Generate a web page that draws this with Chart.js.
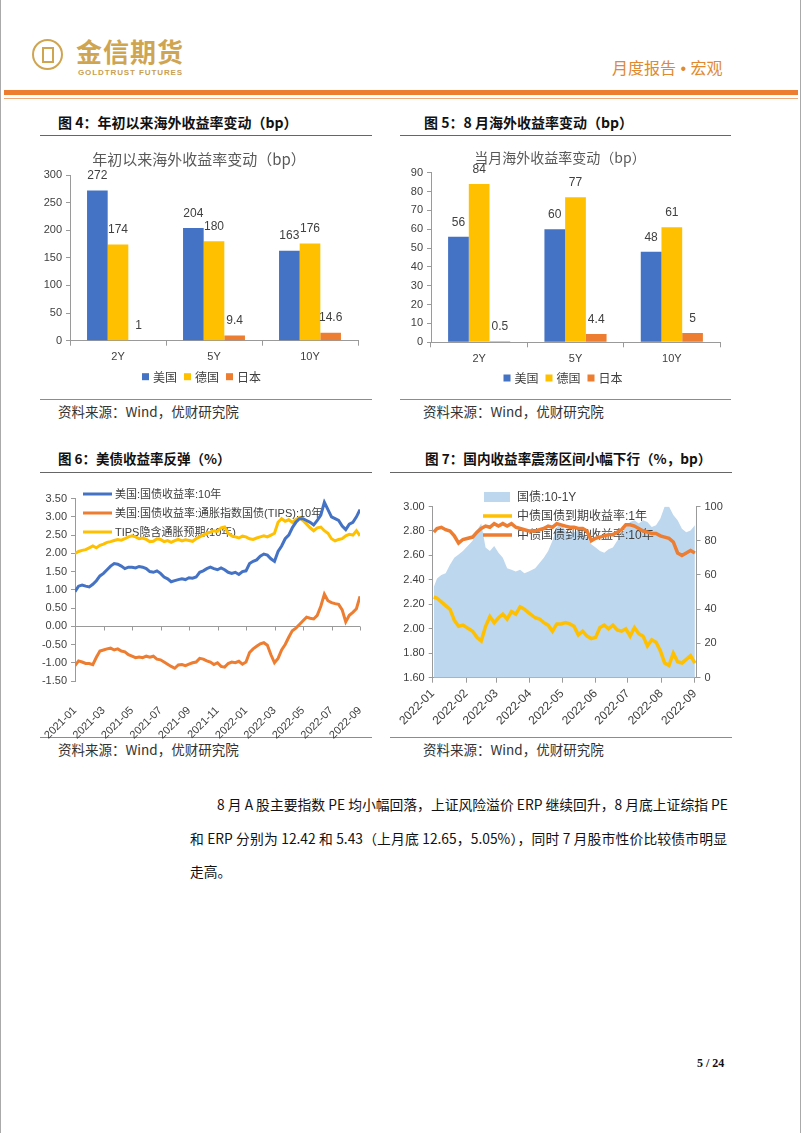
<!DOCTYPE html>
<html><head><meta charset="utf-8">
<script src="https://cdn.jsdelivr.net/npm/chart.js@4.4.1/dist/chart.umd.min.js"></script>
<style>
html,body{margin:0;padding:0;background:#fff;}
#page{position:relative;width:802px;height:1133px;overflow:hidden;font-family:'Noto Sans CJK SC',sans-serif;}
canvas{position:absolute;}
.t{position:absolute;white-space:nowrap;line-height:1;}
.cap{font-weight:bold;color:#111;}
.src{font-size:13.5px;color:#333;}
.ln{position:absolute;}
.para{position:absolute;font-size:13.8px;color:#111;line-height:1;text-align:justify;text-align-last:justify;white-space:nowrap;}
</style></head>
<body><div id="page">
<!-- page frame -->
<div class="ln" style="left:0;top:0;width:1px;height:1133px;background:#aaa"></div>
<div class="ln" style="left:800px;top:0;width:1px;height:1133px;background:#aaa"></div>
<!-- header -->
<div class="ln" style="left:32px;top:39px;width:27px;height:27px;border:2.5px solid #D0A552;border-radius:50%"></div>
<div class="ln" style="left:42px;top:47px;width:8px;height:12px;border:2px solid #D0A552"></div>
<div class="t" style="left:76px;top:38px;font-size:26px;font-weight:bold;color:#D0A552;letter-spacing:1px">金信期货</div>
<div class="t" style="left:78px;top:69px;font-size:8px;font-family:'Liberation Sans';font-weight:bold;color:#C9A052;letter-spacing:0.9px">GOLDTRUST FUTURES</div>
<div class="t" style="left:612px;top:59px;font-size:16px;color:#E0892F">月度报告<span style="font-family:'Liberation Sans'"> • </span>宏观</div>
<div class="ln" style="left:4px;top:90px;width:794px;height:5px;background:#ED7D31"></div>
<div class="ln" style="left:4px;top:98px;width:794px;height:1px;background:#EFA77A"></div>

<!-- captions -->
<div class="t cap" style="left:58px;top:115px;font-size:14px">图 4：年初以来海外收益率变动（bp）</div>
<div class="ln" style="left:40px;top:135px;width:332px;height:1px;background:#666"></div>
<div class="t cap" style="left:424px;top:115px;font-size:14px">图 5：8 月海外收益率变动（bp）</div>
<div class="ln" style="left:400px;top:135px;width:331px;height:1px;background:#666"></div>

<div class="ln" style="left:40px;top:399px;width:332px;height:1px;background:#8585C0"></div>
<div class="t src" style="left:58px;top:405px">资料来源：Wind，优财研究院</div>
<div class="ln" style="left:400px;top:399px;width:331px;height:1px;background:#8585C0"></div>
<div class="t src" style="left:423px;top:405px">资料来源：Wind，优财研究院</div>

<div class="t cap" style="left:58px;top:452px;font-size:13.5px">图 6：美债收益率反弹（%）</div>
<div class="ln" style="left:40px;top:472px;width:332px;height:1px;background:#666"></div>
<div class="t cap" style="left:425px;top:452px;font-size:13.6px">图 7：国内收益率震荡区间小幅下行（%，bp）</div>
<div class="ln" style="left:390px;top:472px;width:342px;height:1px;background:#666"></div>

<div class="ln" style="left:40px;top:737px;width:332px;height:1px;background:#8585C0"></div>
<div class="t src" style="left:58px;top:743px">资料来源：Wind，优财研究院</div>
<div class="ln" style="left:390px;top:737px;width:342px;height:1px;background:#8585C0"></div>
<div class="t src" style="left:423px;top:743px">资料来源：Wind，优财研究院</div>

<!-- paragraph -->
<div class="para" style="left:217px;top:798px;width:510px">8 月 A 股主要指数 PE 均小幅回落，上证风险溢价 ERP 继续回升，8 月底上证综指 PE</div>
<div class="para" style="left:190px;top:832px;width:537px">和 ERP 分别为 12.42 和 5.43（上月底 12.65，5.05%），同时 7 月股市性价比较债市明显</div>
<div class="t" style="left:190px;top:865px;font-size:13.8px;color:#111">走高。</div>

<div class="t" style="left:697px;top:1057px;font-size:12px;font-weight:bold;font-family:'Liberation Serif',serif;color:#111">5 / 24</div>

<canvas id="c4" width="332" height="256" style="left:40px;top:140px"></canvas>
<canvas id="c5" width="332" height="256" style="left:400px;top:140px"></canvas>
<canvas id="c6" width="332" height="262" style="left:40px;top:478px"></canvas>
<canvas id="c7" width="342" height="258" style="left:390px;top:478px"></canvas>
</div>
<script>
// ---------------- DATA ----------------
const barCategories = ['2Y', '5Y', '10Y'];
const seriesNames = ['美国', '德国', '日本'];
const ytdUS = [272, 204, 163];
const ytdDE = [174, 180, 176];
const ytdJP = [1, 9.4, 14.6];
const augUS = [56, 60, 48];
const augDE = [84, 77, 61];
const augJP = [0.5, 4.4, 5];

// Chart 6: weekly readings, 2021-01 .. 2022-09 (4 points per month)
const monthTicks6 = ['2021-01','2021-03','2021-05','2021-07','2021-09','2021-11','2022-01','2022-03','2022-05','2022-07','2022-09'];
const us10y = [0.95,1.10,1.13,1.10, 1.08,1.15,1.25,1.38, 1.45,1.55,1.65,1.72, 1.70,1.65,1.58,1.62,
  1.62,1.60,1.64,1.62, 1.58,1.50,1.48,1.52, 1.45,1.35,1.30,1.22, 1.25,1.28,1.30,1.28,
  1.33,1.32,1.35,1.48, 1.52,1.58,1.62,1.58, 1.55,1.60,1.55,1.48, 1.45,1.48,1.42,1.50,
  1.52,1.72,1.78,1.82, 1.92,1.98,1.95,1.85, 1.78,2.05,2.20,2.40, 2.50,2.70,2.85,2.95,
  2.95,2.90,2.85,2.78, 2.90,3.05,3.40,3.20, 3.00,2.95,2.90,2.75, 2.65,2.80,2.85,3.00, 3.20];
const tips10y = [-1.08,-0.95,-0.98,-1.02, -1.02,-1.05,-0.85,-0.68, -0.65,-0.62,-0.60,-0.65, -0.62,-0.68,-0.70,-0.78,
  -0.82,-0.86,-0.84,-0.86, -0.82,-0.85,-0.82,-0.90, -0.92,-0.98,-1.04,-1.10, -1.15,-1.06,-1.05,-1.08,
  -1.04,-1.00,-0.98,-0.88, -0.90,-0.95,-0.98,-1.05, -1.00,-1.10,-1.12,-1.02, -0.98,-1.00,-0.96,-1.04,
  -0.98,-0.72,-0.62,-0.55, -0.48,-0.45,-0.52,-0.78, -1.00,-0.88,-0.65,-0.50, -0.30,-0.12,-0.05,0.05,
  0.15,0.25,0.22,0.20, 0.30,0.55,0.88,0.70, 0.65,0.62,0.60,0.45, 0.12,0.30,0.38,0.48, 0.82];
const breakeven10y = [2.00,2.05,2.08,2.10, 2.15,2.20,2.15,2.22, 2.25,2.30,2.32,2.35, 2.38,2.36,2.40,2.45,
  2.48,2.45,2.40,2.42, 2.38,2.32,2.33,2.40, 2.38,2.32,2.35,2.30, 2.35,2.38,2.34,2.37,
  2.35,2.33,2.40,2.45, 2.50,2.55,2.58,2.62, 2.60,2.70,2.72,2.55, 2.48,2.45,2.42,2.47,
  2.45,2.40,2.38,2.42, 2.45,2.48,2.45,2.50, 2.55,2.85,2.95,2.88, 2.92,2.85,2.93,2.98,
  2.90,2.80,2.70,2.62, 2.70,2.72,2.62,2.55, 2.40,2.34,2.38,2.40, 2.48,2.52,2.50,2.62, 2.48];

// Chart 7: day of year 2022 for readings
const monthTicks7 = ['2022-01','2022-02','2022-03','2022-04','2022-05','2022-06','2022-07','2022-08','2022-09'];
const monthStartDays7 = [0,31,59,90,120,151,181,212,243];
const days7 = [1,4,8,12,16,20,24,28, 37,41,45,49,53,57,61,65,69,73, 77,81,85,89,95,99,103,107,111,115,
  119,123,127,131,135,139,143,147,151,155, 159,163,167,171,175,179,183,187,191,195,
  199,203,207,211,215,219,223,227,231,235, 239,243];
const cgb1y = [2.26,2.25,2.22,2.19,2.16,2.07,2.02,2.03, 1.98,1.93,1.90,2.02,2.10,2.05,2.09,2.12,2.08,2.14,
  2.12,2.18,2.16,2.13,2.09,2.08,2.05,2.03,1.98,2.04, 2.04,2.05,2.04,2.02,1.95,1.98,1.94,1.92,1.93,2.01,
  2.03,2.00,2.03,1.99,1.98,2.00,1.94,2.01,1.96,1.94, 1.86,1.91,1.89,1.82,1.72,1.70,1.80,1.73,1.72,1.75, 1.78,1.72];
const cgb10y = [2.79,2.82,2.83,2.81,2.80,2.76,2.70,2.73, 2.75,2.79,2.82,2.84,2.83,2.86,2.84,2.86,2.84,2.86,
  2.83,2.82,2.81,2.80,2.80,2.81,2.82,2.84,2.83,2.86, 2.85,2.84,2.83,2.83,2.82,2.82,2.80,2.72,2.74,2.75,
  2.76,2.77,2.77,2.79,2.81,2.85,2.85,2.84,2.82,2.80, 2.79,2.78,2.78,2.76,2.75,2.74,2.71,2.62,2.60,2.62, 2.64,2.62];
const spread10_1 = [53,58,60,61,66,70,72,74, 80,86,90,76,74,77,73,70,64,63,
  62,63,61,62,64,67,70,74,80,88, 90,86,84,85,86,84,82,78,76,74,
  73,75,76,80,83,88,91,92,90,92, 91,88,89,93,100,100,95,92,87,85, 86,89];

// ---------------- STYLE ----------------
const BLUE = '#4472C4', GOLD = '#FFC000', ORANGE = '#ED7D31', AREA = '#BDD7EE';
const AXIS = '#9A9A9A', TXT = '#404040';
const FONT = "'Liberation Sans', 'Noto Sans CJK SC', sans-serif";
Chart.defaults.font.family = FONT;
Chart.defaults.color = TXT;
Chart.defaults.animation = false;

function drawSample(ctx, it, x, y, o) {
  ctx.fillStyle = it.color;
  if (it.kind === 'box') ctx.fillRect(x, y - o.sh / 2, o.sw, o.sh);
  else if (it.kind === 'area') ctx.fillRect(x + 1, y - 5, o.sw - 3, 10);
  else ctx.fillRect(x, y - o.lw / 2, o.sw, o.lw);
}
function drawLegend(chart, o) {
  const ctx = chart.ctx;
  ctx.save();
  ctx.font = o.font; ctx.textBaseline = 'middle'; ctx.textAlign = 'left';
  const items = chart.data.datasets.map(ds => ({text: ds.label, color: ds.legendColor, kind: ds.legendKind}));
  if (o.horizontal) {
    const widths = items.map(it => o.sw + o.gap + ctx.measureText(it.text).width);
    const total = widths.reduce((a, b) => a + b, 0) + o.itemGap * (items.length - 1);
    let x = o.cx - total / 2;
    items.forEach((it, i) => {
      drawSample(ctx, it, x, o.y, o);
      ctx.fillStyle = o.color; ctx.fillText(it.text, x + o.sw + o.gap, o.y + 0.5);
      x += widths[i] + o.itemGap;
    });
  } else {
    items.forEach((it, i) => {
      const y = o.y + i * o.dy;
      drawSample(ctx, it, o.x, y, o);
      ctx.fillStyle = o.color; ctx.fillText(it.text, o.x + o.sw + o.gap, y + 0.5);
    });
  }
  ctx.restore();
}
const legendPlugin = {
  id: 'myLegend',
  beforeDatasetsDraw(chart, args, o) { if (o.when === 'before') drawLegend(chart, o); },
  afterDatasetDraw(chart, args, o) { if (o.when === 'afterIndex' && args.index === o.index) drawLegend(chart, o); },
  afterDatasetsDraw(chart, args, o) { if (o.when === 'after') drawLegend(chart, o); }
};
const valueLabels = {
  id: 'valueLabels',
  afterDatasetsDraw(chart, args, o) {
    const ctx = chart.ctx;
    ctx.save();
    ctx.font = o.font; ctx.fillStyle = o.color; ctx.textAlign = 'center'; ctx.textBaseline = 'middle';
    chart.data.datasets.forEach((ds, di) => {
      chart.getDatasetMeta(di).data.forEach((el, i) => {
        ctx.fillText(String(ds.data[i]), el.x, el.y - o.offset);
      });
    });
    ctx.restore();
  }
};
const zeroAxis = {
  id: 'zeroAxis',
  beforeDatasetsDraw(chart, args, o) {
    const ctx = chart.ctx, xs = chart.scales.x, ys = chart.scales.y;
    const y0 = Math.round(ys.getPixelForValue(0)) + 0.5;
    ctx.save();
    ctx.strokeStyle = o.color; ctx.lineWidth = 1;
    ctx.beginPath();
    ctx.moveTo(chart.chartArea.left, y0); ctx.lineTo(chart.chartArea.right, y0);
    xs.ticks.forEach(t => {
      const x = Math.round(xs.getPixelForValue(t.value)) + 0.5;
      ctx.moveTo(x, y0); ctx.lineTo(x, y0 + 4);
    });
    ctx.stroke();
    ctx.restore();
  }
};

function barChart(id, title, titleSize, titlePad, us, de, jp, yMax, yStep, yW, padR, padB, legendCx, legendY) {
  const mk = (label, data, color) => ({label, data, backgroundColor: color, legendColor: color, legendKind: 'box',
    barPercentage: 1, categoryPercentage: 0.645});
  return new Chart(document.getElementById(id), {
    type: 'bar',
    data: {labels: barCategories, datasets: [mk(seriesNames[0], us, BLUE), mk(seriesNames[1], de, GOLD), mk(seriesNames[2], jp, ORANGE)]},
    options: {
      responsive: false,
      layout: {padding: {left: 0, right: padR, top: 0, bottom: padB}},
      plugins: {
        legend: {display: false}, tooltip: {enabled: false},
        title: {display: true, text: title, color: '#595959', padding: titlePad,
          font: {family: "'Noto Sans CJK SC', sans-serif", size: titleSize, weight: 'normal'}},
        myLegend: {when: 'after', horizontal: true, cx: legendCx, y: legendY, sw: 7, sh: 7, gap: 4, itemGap: 7,
          font: "12px 'Noto Sans CJK SC'", color: TXT},
        valueLabels: {font: "12px " + FONT, color: TXT, offset: 14.5}
      },
      scales: {
        x: {grid: {display: true, drawOnChartArea: false, drawTicks: true, tickLength: 5, color: AXIS, offset: true},
          border: {color: AXIS}, ticks: {padding: 5, font: {size: 11}, color: TXT},
          afterFit: s => { s.height = 23; }},
        y: {min: 0, max: yMax, grid: {drawOnChartArea: false, tickLength: 4, color: AXIS}, border: {color: AXIS},
          ticks: {stepSize: yStep, padding: 4, font: {size: 11}, color: TXT},
          afterFit: s => { s.width = yW; }}
      }
    },
    plugins: [legendPlugin, valueLabels]
  });
}

barChart('c4', '年初以来海外收益率变动（bp）', 15, {top: 10.7, bottom: 6.3}, ytdUS, ytdDE, ytdJP, 300, 50, 30, 14, 32.3, 161.5, 236.7);
barChart('c5', '当月海外收益率变动（bp）', 14, {top: 9.6, bottom: 6.3}, augUS, augDE, augJP, 90, 10, 31, 12, 30.7, 163, 238);

// Chart 6
const toXY6 = arr => arr.map((v, i) => ({x: i / 4, y: v}));
new Chart(document.getElementById('c6'), {
  type: 'line',
  data: {datasets: [
    {label: '美国:国债收益率:10年', data: toXY6(us10y), borderColor: BLUE, legendColor: BLUE, legendKind: 'line', borderWidth: 3, pointRadius: 0, tension: 0},
    {label: '美国:国债收益率:通胀指数国债(TIPS):10年', data: toXY6(tips10y), borderColor: ORANGE, legendColor: ORANGE, legendKind: 'line', borderWidth: 3, pointRadius: 0, tension: 0},
    {label: 'TIPS隐含通胀预期(10年)', data: toXY6(breakeven10y), borderColor: GOLD, legendColor: GOLD, legendKind: 'line', borderWidth: 3, pointRadius: 0, tension: 0}
  ]},
  options: {
    responsive: false,
    layout: {padding: {left: 0, right: 12, top: 20.6, bottom: 0}},
    plugins: {legend: {display: false}, tooltip: {enabled: false},
      myLegend: {when: 'before', horizontal: false, x: 43, y: 16, dy: 19, sw: 29, lw: 3, gap: 3,
        font: "11px " + FONT, color: TXT},
      zeroAxis: {color: AXIS}},
    scales: {
      x: {type: 'linear', min: 0, max: 20, grid: {display: false}, border: {display: false},
        ticks: {stepSize: 2, autoSkip: false, maxRotation: 45, minRotation: 45, padding: 15, font: {size: 11}, color: TXT,
          callback: v => monthTicks6[Math.round(v / 2)]},
        afterFit: s => { s.height = 59; s.paddingLeft = 0; s.paddingRight = 0; }},
      y: {min: -1.5, max: 3.5, grid: {drawOnChartArea: false, tickLength: 4, color: AXIS}, border: {color: AXIS},
        ticks: {stepSize: 0.5, padding: 4, font: {size: 11}, color: TXT, callback: v => v.toFixed(2)},
        afterFit: s => { s.width = 35; }}
    }
  },
  plugins: [legendPlugin, zeroAxis]
});

// Chart 7
const toXY7 = arr => arr.map((v, i) => ({x: days7[i], y: v}));
new Chart(document.getElementById('c7'), {
  type: 'line',
  data: {datasets: [
    {label: '国债:10-1Y', data: toXY7(spread10_1), yAxisID: 'y2', order: 3, borderWidth: 0, borderColor: AREA, backgroundColor: AREA,
      fill: 'origin', legendColor: AREA, legendKind: 'area', pointRadius: 0, tension: 0},
    {label: '中债国债到期收益率:1年', data: toXY7(cgb1y), yAxisID: 'y', order: 2, borderColor: GOLD, legendColor: GOLD, legendKind: 'line', borderWidth: 3.5, pointRadius: 0, tension: 0},
    {label: '中债国债到期收益率:10年', data: toXY7(cgb10y), yAxisID: 'y', order: 1, borderColor: ORANGE, legendColor: ORANGE, legendKind: 'line', borderWidth: 3.5, pointRadius: 0, tension: 0}
  ]},
  options: {
    responsive: false,
    layout: {padding: {left: 0, right: 0, top: 28.5, bottom: 0}},
    plugins: {legend: {display: false}, tooltip: {enabled: false},
      myLegend: {when: 'afterIndex', index: 0, horizontal: false, x: 93, y: 19, dy: 19, sw: 29, lw: 3.5, gap: 5,
        font: "12px " + FONT, color: TXT}},
    scales: {
      x: {type: 'linear', min: 0, max: 244.5,
        grid: {display: true, drawOnChartArea: false, tickLength: 5, color: AXIS}, border: {color: AXIS},
        afterBuildTicks: s => { s.ticks = monthStartDays7.map(v => ({value: v})); },
        ticks: {autoSkip: false, maxRotation: 45, minRotation: 45, padding: 4, font: {size: 12}, color: TXT,
          callback: v => monthTicks7[monthStartDays7.indexOf(v)]},
        afterFit: s => { s.height = 58.3; s.paddingLeft = 0; s.paddingRight = 0; }},
      y: {position: 'left', min: 1.6, max: 3.0, grid: {drawOnChartArea: false, tickLength: 4, color: AXIS}, border: {color: AXIS},
        ticks: {stepSize: 0.2, padding: 4, font: {size: 11}, color: TXT, callback: v => v.toFixed(2)},
        afterFit: s => { s.width = 42.7; }},
      y2: {position: 'right', min: 0, max: 100, grid: {drawOnChartArea: false, tickLength: 4, color: AXIS}, border: {color: AXIS},
        ticks: {stepSize: 20, padding: 4, font: {size: 11}, color: TXT},
        afterFit: s => { s.width = 35.5; }}
    }
  },
  plugins: [legendPlugin]
});
</script>
</body></html>
